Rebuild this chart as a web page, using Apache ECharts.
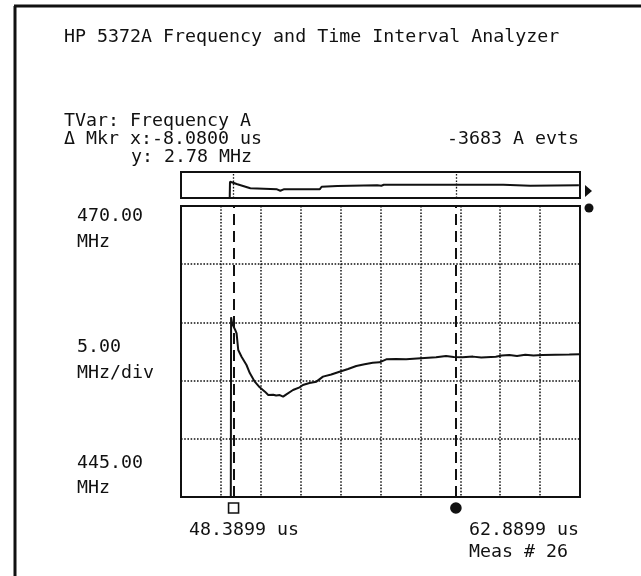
<!DOCTYPE html>
<html>
<head>
<meta charset="utf-8">
<script src="https://cdn.jsdelivr.net/npm/echarts@6/dist/echarts.min.js"></script>
<style>
  html, body { margin: 0; padding: 0; background: #fff; }
  #chart { width: 641px; height: 576px; }
</style>
</head>
<body>
<div id="chart"></div>
<script>
// Display window (µs)
const windowStart = 48.3899;
const windowSpan = 14.5;
const divTime = 1.45;

// Frequency scale (MHz)
const freqMin = 445;
const freqMax = 470;
const freqDiv = 5;

// Measured trace: time (µs) and frequency (MHz)
const traceTime = [50.20, 50.21, 50.25, 50.29, 50.36, 50.41, 50.47, 50.59, 50.77, 50.89,
  51.07, 51.25, 51.44, 51.56, 51.74, 51.85, 51.98, 52.10, 52.22, 52.46,
  52.70, 52.82, 53.06, 53.31, 53.55, 53.85, 54.15, 54.46, 54.76, 55.06,
  55.36, 55.60, 55.85, 56.20, 56.57, 57.10, 57.66, 58.02, 58.30, 58.62,
  59.00, 59.30, 59.83, 60.05, 60.32, 60.60, 60.90, 61.20, 61.52, 62.00,
  62.50, 62.87];
const traceFreq = [445.0, 460.44, 459.90, 459.78, 459.35, 459.06, 457.63, 457.05, 456.34, 455.65,
  454.91, 454.42, 454.05, 453.76, 453.79, 453.72, 453.76, 453.62, 453.82, 454.19,
  454.42, 454.62, 454.80, 454.91, 455.34, 455.52, 455.76, 456.00, 456.25, 456.40,
  456.54, 456.57, 456.83, 456.85, 456.83, 456.92, 457.00, 457.11, 457.02, 457.00,
  457.06, 456.98, 457.05, 457.15, 457.20, 457.12, 457.22, 457.15, 457.20, 457.22,
  457.24, 457.26];

// Record overview strip: time (µs) and level (MHz, coarse scale)
const overviewTime = [50.16, 50.17, 50.29, 50.41, 50.91, 51.64, 51.88, 52.00, 52.12, 53.43,
  53.50, 54.07, 55.52, 55.58, 55.67, 55.76, 57.70, 60.10, 61.08, 62.85];
const overviewFreq = [440.0, 458.8, 457.6, 456.2, 451.2, 450.4, 450.0, 448.4, 450.0, 450.0,
  453.0, 453.8, 454.7, 456.2, 454.2, 455.3, 455.3, 455.3, 454.2, 454.7];
const overviewMin = 440;
const overviewMax = 470;

// Markers (µs): open square marker, filled dot marker
const markerTime = [50.30, 58.38];
const markerSymbol = ['rect', 'circle'];

// Text readouts
const titleText = 'HP 5372A Frequency and Time Interval Analyzer';
const headerLines = ['TVar: Frequency A', '\u0394 Mkr x:-8.0800 us'];
const deltaYText = 'y: 2.78 MHz';
const eventsText = '-3683 A evts';
const yLabelTop = ['470.00', 'MHz'];
const yLabelMid = ['5.00', 'MHz/div'];
const yLabelBottom = ['445.00', 'MHz'];
const xLabelStart = '48.3899 us';
const xLabelStop = '62.8899 us';
const measText = 'Meas # 26';

const FONT = '"DejaVu Sans Mono", "Liberation Mono", monospace';
const INK = '#111';
const FS = 18.3;

const rel = t => +(t - windowStart).toFixed(4);
const traceData = traceTime.map((t, i) => [rel(t), traceFreq[i]]);
const overviewData = overviewTime.map((t, i) => [rel(t), overviewFreq[i]]);
const markerData = markerTime.map((t, i) => ({ value: [rel(t), 0.5], symbol: markerSymbol[i] }));

function txt(x, y, s, align) {
  return {
    type: 'text', x: x, y: y, silent: true,
    style: { text: s, font: FS + 'px ' + FONT, fill: INK, textAlign: align || 'left', textVerticalAlign: 'middle' }
  };
}

const gridDots = { color: '#111', width: 1.5, type: [1.6, 1.6] };

const timeAxis = (gridIndex) => ({
  type: 'value', gridIndex: gridIndex, min: 0, max: windowSpan, interval: divTime,
  axisLine: { show: false }, axisTick: { show: false }, axisLabel: { show: false },
  splitLine: gridIndex === 0 ? { show: true, lineStyle: gridDots } : { show: false }
});

const chart = echarts.init(document.getElementById('chart'), null, { renderer: 'canvas' });

const option = {
  animation: false,
  backgroundColor: '#fff',
  grid: [
    { left: 181, top: 206, width: 399, height: 291, show: true, borderColor: INK, borderWidth: 2, backgroundColor: 'transparent' },
    { left: 181, top: 172, width: 399, height: 26, show: true, borderColor: INK, borderWidth: 2, backgroundColor: 'transparent' },
    { left: 181, top: 500, width: 399, height: 16, show: false }
  ],
  xAxis: [timeAxis(0), timeAxis(1), timeAxis(2)],
  yAxis: [
    {
      type: 'value', gridIndex: 0, min: freqMin, max: freqMax, interval: freqDiv,
      axisLine: { show: false }, axisTick: { show: false }, axisLabel: { show: false },
      splitLine: { show: true, lineStyle: gridDots }
    },
    {
      type: 'value', gridIndex: 1, min: overviewMin, max: overviewMax,
      axisLine: { show: false }, axisTick: { show: false }, axisLabel: { show: false }, splitLine: { show: false }
    },
    {
      type: 'value', gridIndex: 2, min: 0, max: 1,
      axisLine: { show: false }, axisTick: { show: false }, axisLabel: { show: false }, splitLine: { show: false }
    }
  ],
  series: [
    {
      type: 'line', xAxisIndex: 0, yAxisIndex: 0, data: traceData,
      showSymbol: false, symbol: 'none', clip: true,
      lineStyle: { color: INK, width: 2 },
      markLine: {
        silent: true, symbol: 'none', label: { show: false },
        lineStyle: { color: INK, width: 2, type: [11, 6] },
        data: markerTime.map(t => ({ xAxis: rel(t) }))
      }
    },
    {
      type: 'line', xAxisIndex: 1, yAxisIndex: 1, data: overviewData,
      showSymbol: false, symbol: 'none', clip: true,
      lineStyle: { color: INK, width: 2 },
      markLine: {
        silent: true, symbol: 'none', label: { show: false },
        lineStyle: { color: INK, width: 1.3, type: [1.6, 1.6] },
        data: markerTime.map(t => ({ xAxis: rel(t) }))
      }
    },
    {
      type: 'scatter', xAxisIndex: 2, yAxisIndex: 2, data: markerData,
      symbolSize: 10, silent: true,
      itemStyle: {
        opacity: 1,
        color: p => p.dataIndex === 0 ? '#fff' : INK,
        borderColor: INK, borderWidth: 1.6
      }
    }
  ],
  graphic: [
    // page frame
    { type: 'line', silent: true, shape: { x1: 15, y1: 6, x2: 15, y2: 576 }, style: { stroke: INK, lineWidth: 3 } },
    { type: 'line', silent: true, shape: { x1: 14, y1: 6, x2: 641, y2: 6 }, style: { stroke: INK, lineWidth: 3 } },
    txt(64, 37, titleText),
    txt(64, 121, headerLines[0]),
    txt(64, 139, headerLines[1]),
    txt(131, 157, deltaYText),
    txt(579, 139, eventsText, 'right'),
    txt(77, 216, yLabelTop[0]), txt(77, 242, yLabelTop[1]),
    txt(77, 347, yLabelMid[0]), txt(77, 373, yLabelMid[1]),
    txt(77, 463, yLabelBottom[0]), txt(77, 488, yLabelBottom[1]),
    txt(189, 530, xLabelStart),
    txt(469, 530, xLabelStop),
    txt(469, 552, measText),
    // scroll indicator and reference dot at the right of the plot
    { type: 'polygon', silent: true, shape: { points: [[585, 185], [585, 197], [592, 191]] }, style: { fill: INK } },
    { type: 'circle', silent: true, shape: { cx: 589, cy: 208, r: 4.5 }, style: { fill: INK } }
  ]
};

chart.setOption(option);
</script>
</body>
</html>
